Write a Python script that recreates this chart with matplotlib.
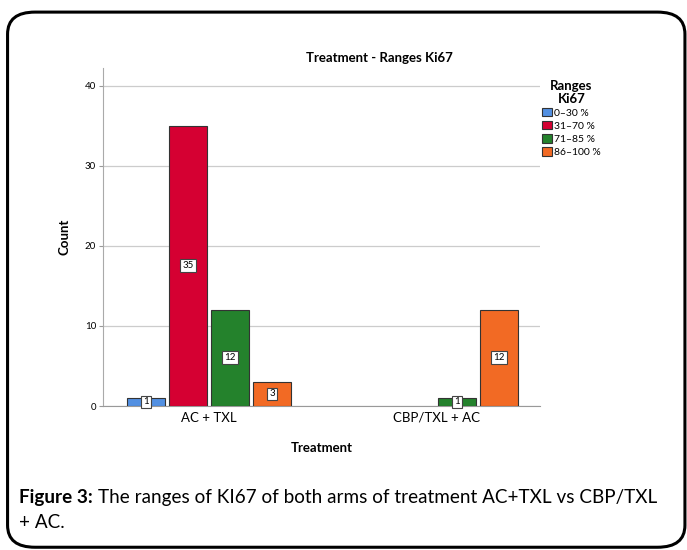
import matplotlib.pyplot as plt
from matplotlib.patches import FancyBboxPatch
import numpy as np

treatments = ["AC + TXL", "CBP/TXL + AC"]
ranges = ["0–30 %", "31–70 %", "71–85 %", "86–100 %"]
counts = {
    "0–30 %": [1, 0],
    "31–70 %": [35, 0],
    "71–85 %": [12, 1],
    "86–100 %": [3, 12],
}
colors = ["#5290e2", "#d50032", "#24822c", "#f26a24"]

plt.rcParams["font.family"] = ["Lato", "DejaVu Sans"]

fig = plt.figure(figsize=(6.87, 5.5), dpi=100)

# rounded frame round the figure and caption
frame = FancyBboxPatch((0.011, 0.005), 0.986, 0.973,
                       boxstyle="round,pad=0,rounding_size=0.04",
                       transform=fig.transFigure, fill=False,
                       edgecolor="black", linewidth=2.2)
fig.patches.append(frame)

ax = fig.add_axes([103 / 687, 1 - 406 / 550, 437 / 687, 338 / 550])

x = np.arange(len(treatments))
w = 0.167
step = 0.185
for i, (r, c) in enumerate(zip(ranges, colors)):
    off = (i - 1.5) * step
    for j, v in enumerate(counts[r]):
        if v == 0:
            continue
        ax.bar(x[j] + off, v, width=w, color=c, edgecolor="#333333",
               linewidth=0.8, zorder=3)
        ax.text(x[j] + off, v / 2, str(v), ha="center", va="center",
                fontsize=7, zorder=4,
                bbox=dict(boxstyle="square,pad=0.2", fc="white",
                          ec="#444444", lw=0.8))

ax.set_xlim(-0.467, 1.458)
ax.set_ylim(0, 42.2)
ax.set_yticks([0, 10, 20, 30, 40])
ax.set_xticks(x)
ax.set_xticklabels(treatments, fontsize=9.5)
ax.tick_params(axis="y", labelsize=7, length=3, color="#999999", pad=2)
ax.tick_params(axis="x", length=0, pad=4)
ax.grid(axis="y", color="#cccccc", linewidth=0.9, zorder=0)
for s in ["top", "right"]:
    ax.spines[s].set_visible(False)
ax.spines["left"].set_color("#aaaaaa")
ax.spines["bottom"].set_color("#999999")
ax.set_ylabel("Count", fontsize=9.5, fontweight="bold", labelpad=10)
ax.set_xlabel("Treatment", fontsize=9.5, fontweight="bold", labelpad=13)

fig.text(379 / 687, 1 - 58 / 550, "Treatment - Ranges Ki67", ha="center",
         va="center", fontsize=9.5, fontweight="bold")

handles = [plt.Rectangle((0, 0), 1, 1, fc=c, ec="#333333", lw=0.8)
           for c in colors]
leg = fig.legend(handles, ranges, loc="upper left",
                 bbox_to_anchor=(538 / 687, 1 - 76 / 550),
                 title="Ranges\nKi67", frameon=False, fontsize=7.5,
                 handlelength=0.9, handleheight=0.9, handletextpad=0.25,
                 labelspacing=0.3, borderaxespad=0)
leg.get_title().set_fontweight("bold")
leg.get_title().set_fontsize(9.5)
leg.get_title().set_multialignment("center")
leg.get_title().set_linespacing(1.05)

# caption: bold label followed by regular text
cap_size = 13.6
lab = fig.text(19 / 687, 1 - 497 / 550, "Figure 3:", fontsize=cap_size,
               fontweight="bold", va="center")
fig.canvas.draw()
bb = lab.get_window_extent().transformed(fig.transFigure.inverted())
fig.text(bb.x1 + 5 / 687, 1 - 497 / 550,
         "The ranges of KI67 of both arms of treatment AC+TXL vs CBP/TXL",
         fontsize=cap_size, va="center")
fig.text(19 / 687, 1 - 522 / 550, "+ AC.", fontsize=cap_size, va="center")

fig.savefig("out.png", dpi=100)
